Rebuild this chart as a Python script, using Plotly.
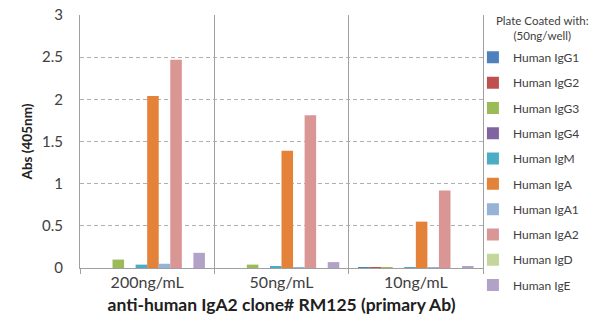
import plotly.graph_objects as go

categories = ["200ng/mL", "50ng/mL", "10ng/mL"]
series_names = ["Human IgG1", "Human IgG2", "Human IgG3", "Human IgG4", "Human IgM",
                "Human IgA", "Human IgA1", "Human IgA2", "Human IgD", "Human IgE"]
values = {
    "Human IgG1": [0.0, 0.0, 0.01],
    "Human IgG2": [0.0, 0.0, 0.01],
    "Human IgG3": [0.10, 0.04, 0.01],
    "Human IgG4": [0.0, 0.0, 0.0],
    "Human IgM": [0.04, 0.02, 0.01],
    "Human IgA": [2.04, 1.39, 0.55],
    "Human IgA1": [0.05, 0.01, 0.01],
    "Human IgA2": [2.47, 1.81, 0.92],
    "Human IgD": [0.0, 0.0, 0.0],
    "Human IgE": [0.18, 0.07, 0.02],
}
colors = ["#4F81BD", "#C0504D", "#9BBB59", "#8064A2", "#4BACC6",
          "#E5823A", "#95B3D7", "#D99694", "#C3D69B", "#B3A2C7"]
legend_title = "Plate Coated with:<br>(50ng/well)"

fig = go.Figure()
for name, col in zip(series_names, colors):
    fig.add_trace(go.Bar(x=categories, y=values[name], name=name,
                         marker=dict(color=col, line=dict(width=0)),
                         legendgroup=name))

font = "Lato, 'Open Sans', sans-serif"
fig.update_layout(
    width=600, height=335,
    margin=dict(l=80, r=117, t=15, b=67, autoexpand=False),
    paper_bgcolor="white", plot_bgcolor="white",
    barmode="group", bargap=0.14, bargroupgap=0,
    font=dict(family=font, color="#404040"),
    showlegend=True,
    legend=dict(
        x=0.975, xanchor="left", y=0.89, yanchor="top",
        font=dict(size=12, color="#404040"),
        tracegroupgap=6.3, itemwidth=30, maxheight=335,
        bgcolor="rgba(0,0,0,0)",
    ),
    xaxis=dict(
        tickson="boundaries", ticks="outside", ticklen=5, tickcolor="#a0a0a0",
        showgrid=True, gridcolor="#a0a0a0", gridwidth=1,
        showline=True, linecolor="#a0a0a0", linewidth=1,
        tickfont=dict(size=16, color="#404040"),
        title=dict(text="<b>anti-human IgA2 clone# RM125 (primary Ab)</b>",
                   font=dict(size=17.5, color="#202020"), standoff=8),
    ),
    yaxis=dict(
        range=[0, 3], dtick=0.5,
        showgrid=True, gridcolor="#b0b0b0", griddash="4px,3px", gridwidth=1,
        zeroline=False, showline=True, mirror=True, linecolor="#a0a0a0", linewidth=1,
        ticks="", ticklabelstandoff=13,
        tickfont=dict(size=15, color="#404040"),
        title=dict(text="<b>Abs (405nm)</b>", font=dict(size=13.5, color="#202020"), standoff=6),
    ),
    annotations=[dict(
        text=legend_title, xref="paper", yref="paper",
        x=1.148, y=1.01, xanchor="center", yanchor="top",
        showarrow=False, align="center",
        font=dict(size=11.5, color="#404040"),
    )],
)

fig.write_html("out.html")
